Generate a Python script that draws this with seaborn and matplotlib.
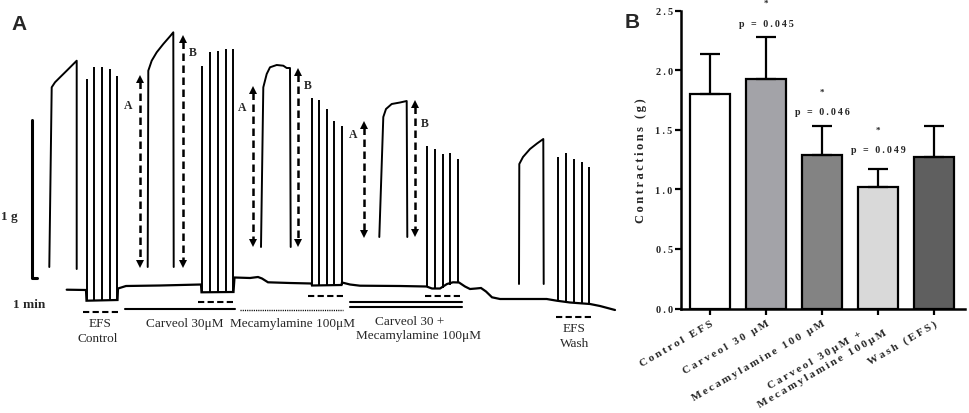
import matplotlib
matplotlib.use("Agg")
import matplotlib.pyplot as plt
import numpy as np
import seaborn as sns

# ---- panel B data ----
categories = ["Control EFS", "Carveol 30 μM", "Mecamylamine 100 μM",
              "Carveol 30μM +\nMecamylamine 100μM", "Wash (EFS)"]
means = [1.80, 1.93, 1.29, 1.02, 1.27]
sem = [0.34, 0.35, 0.24, 0.15, 0.26]
bar_colors = ["#ffffff", "#a3a3a8", "#838383", "#d9d9d9", "#5f5f5f"]
p_labels = {1: "p = 0.045", 2: "p = 0.046", 3: "p = 0.049"}
p_heights = {1: 2.39, 2: 1.65, 3: 1.335}
star_heights = {1: 2.565, 2: 1.82, 3: 1.50}

# ---- panel A data: recording trace in pixel units ----
baseline_x = [66.7, 86, 86.5, 117.5, 118, 126, 160, 201, 201.5, 233.5, 234.5, 250,
              258, 262, 268, 290, 311.5, 312, 341.5, 342, 350, 360, 400, 426.5,
              432, 440, 447, 453, 459, 465, 470, 476, 481, 486, 492, 500, 546.7,
              556.7, 570, 590, 600, 615]
baseline_y = [290.7, 291, 301.7, 301, 289.5, 287, 286.5, 285.5, 293.3, 293, 278.5, 279,
              278, 279.5, 283.3, 284, 284.5, 286.5, 286, 283.5, 285.5, 286.7, 287, 287.5,
              289.5, 289.5, 285, 283.3, 283.5, 287.5, 290, 289.5, 289, 292.5, 298.3, 300, 300,
              301.7, 303.5, 305, 307, 311]

contractions = [
    ([49.3, 51.7, 55, 60, 66.7, 71.7, 76.7, 76.7],
     [268, 88.3, 83.3, 78.3, 71.7, 66.7, 61.7, 270]),
    ([147.7, 148.3, 151.7, 156.7, 163.3, 170, 173.3, 173.7],
     [268, 71.7, 61.7, 53.3, 45, 37.3, 33.3, 268]),
    ([261, 263.3, 266.7, 270, 276.7, 283.3, 286.7, 290, 290.7],
     [248, 88.3, 75, 68.3, 66, 66.7, 69, 69, 248]),
    ([379.3, 383.3, 386, 391.7, 400, 406.7, 407.3],
     [238, 118, 110, 105, 103.5, 102, 238]),
    ([519, 519.3, 523, 530, 537, 543.3, 543.7],
     [285, 165, 158, 150, 144.5, 140, 285]),
]

spike_x = [87, 94, 102, 110, 117,
           202, 210, 218, 226, 233,
           312, 319, 327, 334, 342,
           427, 435, 443, 450, 458,
           558, 566, 574, 582, 589]
spike_top = [80, 68, 68, 70, 77,
             67, 53, 52, 50, 50,
             99, 101, 110, 122, 127,
             147, 150, 155, 154, 160,
             158, 154, 160, 163, 168]
spike_bottom = [301, 301, 301, 301, 301,
                293, 293, 293, 293, 293,
                286, 286, 286, 286, 286,
                288, 289, 289, 286, 284,
                302, 303, 304, 304.5, 305]

# dashed double arrows: x, top, bottom, label, label position
arrows = [
    (140, 77, 268, "A", 128, 106),
    (183, 37, 268, "B", 193, 53),
    (253.3, 88, 247, "A", 241.7, 108),
    (298.3, 70, 247, "B", 308, 86),
    (364.3, 123, 238, "A", 353.3, 135),
    (415, 102, 237, "B", 425, 124),
]

# protocol bars under the trace: x0, x1, y, style
protocol_bars = [
    (83, 121, 312.5, "dash"),
    (125, 235, 310.3, "solid"),
    (198, 236, 303.3, "dash"),
    (240, 343, 310.5, "dot"),
    (308, 345, 297.3, "dash"),
    (350, 462, 303.3, "solid"),
    (350, 462, 308.3, "solid"),
    (425, 462, 297, "dash"),
    (556, 594, 317.5, "dash"),
]
protocol_text = [
    ("EFS", 100, 324), ("Control", 98, 339),
    ("Carveol 30μM", 185, 324),
    ("Mecamylamine 100μM", 293, 324),
    ("Carveol 30 +", 410, 322), ("Mecamylamine 100μM", 418, 336),
    ("EFS", 574, 329), ("Wash", 575, 344),
]


def spaced(text: str) -> str:
    return "\u2009".join(text)


sns.set_theme(style="ticks")
plt.rcParams["font.family"] = ["Liberation Serif", "DejaVu Serif"]
plt.rcParams["mathtext.default"] = "regular"

fig = plt.figure(figsize=(9.69, 4.14), dpi=100)

# ---------------- panel A ----------------
ax_a = fig.add_axes([0, 0, 660 / 969, 1])
ax_a.set_xlim(0, 660)
ax_a.set_ylim(414, 0)
ax_a.axis("off")

ax_a.plot(baseline_x, baseline_y, color="black", lw=1.6, solid_joinstyle="miter")
for cx, cy in contractions:
    ax_a.plot(cx, cy, color="black", lw=1.4)
ax_a.vlines(spike_x, spike_bottom, spike_top, color="black", lw=1.4)

for x, top, bottom, label, lx, ly in arrows:
    ax_a.plot([x, x], [top + 5, bottom - 5], color="black", lw=1.8, ls=(0, (3, 1.8)))
    ax_a.plot([x], [top + 3], marker="^", color="black", ms=5.5, mew=0)
    ax_a.plot([x], [bottom - 3], marker="v", color="black", ms=5.5, mew=0)
    ax_a.text(lx, ly, label, ha="center", va="center", fontsize=8.5, fontweight="bold")

styles = {"dash": (0, (3, 1.6)), "solid": "-", "dot": (0, (0.8, 0.8))}
for x0, x1, y, style in protocol_bars:
    lw = 1.0 if style == "dot" else 1.5
    ax_a.plot([x0, x1], [y, y], color="black", lw=lw, ls=styles[style])
for label, x, y in protocol_text:
    ax_a.text(x, y, label, ha="center", va="center", fontsize=9.5)

# scale bar
ax_a.plot([31.7, 31.7, 36.7], [120.7, 279.3, 279.3], color="black", lw=2.2)
ax_a.text(9, 216.7, "1 g", ha="center", va="center", fontsize=9.5, fontweight="bold")
ax_a.text(29, 305, "1 min", ha="center", va="center", fontsize=9.5, fontweight="bold")
ax_a.text(19, 25, "A", ha="center", va="center", fontsize=15, fontweight="bold",
          family=["Liberation Sans", "DejaVu Sans"])

# ---------------- panel B ----------------
ax_b = fig.add_axes([681 / 969, (414 - 309.5) / 414, (965 - 681) / 969, (309.5 - 11.7) / 414])
sns.barplot(x=categories, y=means, hue=categories, palette=bar_colors, legend=False,
            edgecolor="black", linewidth=1.6, width=0.7, saturation=1, ax=ax_b)
positions = np.arange(len(categories))
ax_b.errorbar(positions, means, yerr=[np.zeros(len(sem)), sem], fmt="none",
              ecolor="black", elinewidth=1.6, capsize=7, capthick=1.6, zorder=1)

for i, label in p_labels.items():
    ax_b.text(i, p_heights[i], spaced(label), ha="center", va="center",
              fontsize=7.2, fontweight="bold")
    ax_b.text(i, star_heights[i], "*", ha="center", va="center",
              fontsize=6.5, fontweight="bold", clip_on=False)

ax_b.set_xlim(-0.518, 4.554)
ax_b.set_ylim(0, 2.5)
ax_b.set_yticks([0, 0.5, 1.0, 1.5, 2.0, 2.5])
ax_b.set_yticklabels([spaced(f"{v:.1f}") for v in [0, 0.5, 1.0, 1.5, 2.0, 2.5]],
                     fontsize=7.5, fontweight="bold")
ax_b.set_xticks(positions)
ax_b.set_xticklabels([spaced(c) for c in categories], rotation=30, ha="right",
                     rotation_mode="anchor", fontsize=8, fontweight="bold")
ax_b.get_xticklabels()[3].set_multialignment("center")
ax_b.get_xticklabels()[3].set_linespacing(1.35)
ax_b.set_ylabel(spaced("Contractions (g)"), fontsize=9, fontweight="bold", labelpad=6)
ax_b.tick_params(axis="both", length=4, width=1.6, color="black", pad=2)
ax_b.tick_params(axis="x", pad=3)
for side in ("top", "right"):
    ax_b.spines[side].set_visible(False)
for side in ("left", "bottom"):
    ax_b.spines[side].set_linewidth(1.8)
    ax_b.spines[side].set_color("black")
ax_b.set_xlabel("")

fig.text(632 / 969, 1 - 22 / 414, "B", ha="center", va="center", fontsize=15,
         fontweight="bold", family=["Liberation Sans", "DejaVu Sans"])

fig.savefig("out.png", dpi=100)
